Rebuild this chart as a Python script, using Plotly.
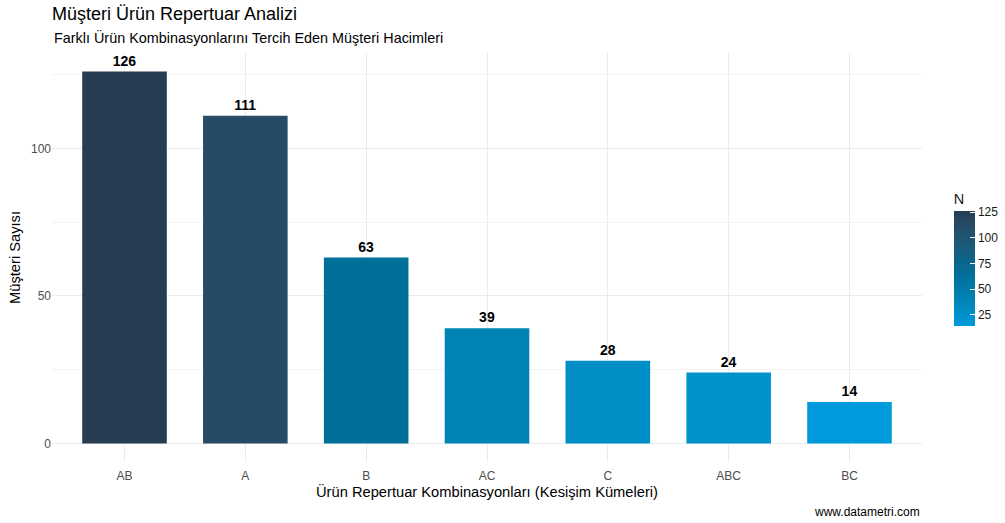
import plotly.graph_objects as go

# data
combos = ["AB", "A", "B", "AC", "C", "ABC", "BC"]
counts = [126, 111, 63, 39, 28, 24, 14]
cbar_ticks = [25, 50, 75, 100, 125]

font = "Liberation Sans, Arial, sans-serif"
scale = [
    [0.0, "#009BDC"],
    [0.22, "#0084B6"],
    [0.44, "#00709B"],
    [0.70, "#1B5A7A"],
    [0.87, "#264C65"],
    [1.0, "#263D52"],
]

TOP, BOT = 53, 462
PH = BOT - TOP

fig = go.Figure(go.Bar(
    x=combos,
    y=counts,
    width=0.7,
    marker=dict(
        color=counts,
        colorscale=scale,
        cmin=min(counts),
        cmax=max(counts),
        line=dict(width=0),
        colorbar=dict(
            title=dict(text="N", side="top", font=dict(size=14.5, color="#1a1a1a")),
            tickvals=cbar_ticks,
            ticks="inside",
            tickcolor="white",
            ticklen=5,
            tickfont=dict(size=12, color="#1a1a1a"),
            thickness=21,
            lenmode="pixels",
            len=136,
            ypad=0,
            x=1.025,
            xanchor="left",
            y=(BOT - 190) / PH,
            yanchor="top",
            outlinewidth=0,
        ),
    ),
    text=counts,
    texttemplate="<b>%{text}</b>",
    textposition="outside",
    textfont=dict(size=14, color="black", family=font),
    cliponaxis=False,
    hoverinfo="x+y",
))

fig.update_layout(
    width=1005,
    height=523,
    plot_bgcolor="white",
    paper_bgcolor="white",
    font=dict(family=font),
    margin=dict(l=52, r=83, t=TOP, b=523 - BOT, autoexpand=False),
    bargap=0.3,
    showlegend=False,
    title=dict(
        text="Müşteri Ürün Repertuar Analizi",
        x=52 / 1005, xanchor="left",
        y=1 - 14 / 523, yanchor="middle",
        font=dict(size=18, color="black"),
    ),
    annotations=[
        dict(text="Farklı Ürün Kombinasyonlarını Tercih Eden Müşteri Hacimleri",
             xref="paper", yref="paper", x=0, y=(BOT - 37) / PH,
             xanchor="left", yanchor="middle", showarrow=False,
             font=dict(size=14.4, color="black")),
        dict(text="www.datametri.com",
             xref="paper", yref="paper", x=1, y=-(512 - BOT) / PH,
             xanchor="right", yanchor="middle", showarrow=False,
             font=dict(size=12, color="black")),
    ],
)

fig.update_xaxes(
    title=dict(text="Ürün Repertuar Kombinasyonları (Kesişim Kümeleri)",
               font=dict(size=14.7, color="black"), standoff=4),
    range=[-0.6, 6.6],
    showgrid=True, gridcolor="#EBEBEB", gridwidth=1,
    tickfont=dict(size=12, color="#4D4D4D"),
    ticklabelstandoff=5,
    ticks="", zeroline=False, showline=False,
)
fig.update_yaxes(
    title=dict(text="Müşteri Sayısı", font=dict(size=14.7, color="black"), standoff=6),
    range=[-6.3, 132.3],
    tickvals=[0, 50, 100],
    showgrid=True, gridcolor="#EBEBEB", gridwidth=1,
    minor=dict(tickvals=[25, 75, 125], showgrid=True, gridcolor="#F3F3F3", gridwidth=1),
    tickfont=dict(size=12, color="#4D4D4D"),
    ticks="", zeroline=False, showline=False,
)

fig.write_html("out.html", config={"displayModeBar": False},
               post_script="document.body.style.margin='0';")
